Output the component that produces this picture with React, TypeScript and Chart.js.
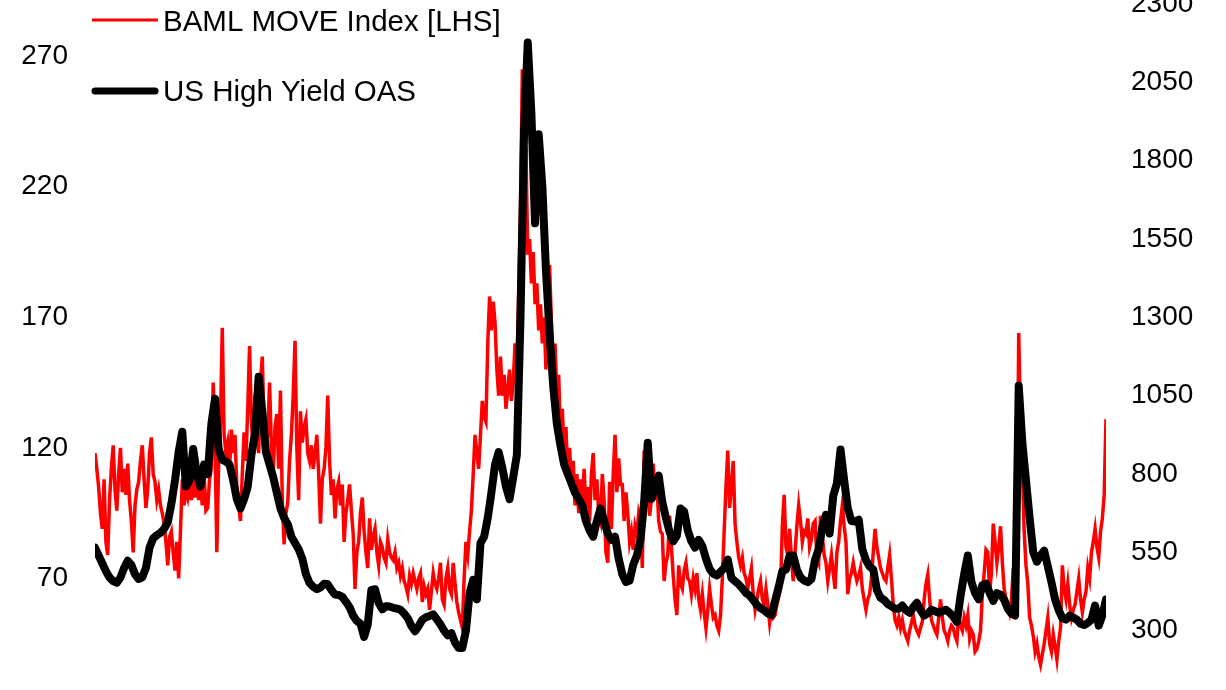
import React, { useEffect, useRef } from 'react';
import { Chart, registerables } from 'chart.js';

Chart.register(...registerables);

const FONT = '"Liberation Sans", Arial, Helvetica, sans-serif';

const moveLabel = 'BAML MOVE Index [LHS]';
const hyLabel = 'US High Yield OAS';

const leftTicks = [20, 70, 120, 170, 220, 270];
const rightTicks = [50, 300, 550, 800, 1050, 1300, 1550, 1800, 2050, 2300];

// BAML MOVE Index, two readings per month, Jan 1999 - Mar 2022
const moveValues = [
  118, 112, 105, 95, 89, 108, 84, 79, 100, 112, 121, 104, 96, 110, 120, 103, 112, 102, 114, 100, 92, 80, 98, 104,
  107, 115, 121, 108, 97, 104, 118, 124, 110, 107, 100, 104, 98, 95, 91, 84, 75, 86, 88, 80, 73, 84, 70, 88,
  108, 98, 104, 101, 107, 100, 110, 101, 112, 100, 106, 98, 110, 96, 97, 108, 112, 145, 122, 80, 114, 130, 166, 125,
  118, 122, 112, 127, 118, 125, 105, 98, 92, 110, 126, 115, 135, 159, 130, 120, 140, 128, 118, 145, 155, 128, 122, 125,
  145, 120, 110, 128, 133, 112, 142, 100, 83, 95, 99, 115, 125, 140, 161, 120, 100, 134, 122, 128, 131, 118, 115, 121,
  112, 118, 125, 110, 91, 108, 112, 120, 140, 115, 102, 108, 93, 104, 107, 98, 106, 84, 95, 100, 106, 96, 87, 66,
  80, 84, 95, 101, 88, 80, 74, 93, 81, 86, 89, 80, 75, 84, 82, 78, 76, 85, 80, 78, 77, 80, 74, 76,
  71, 74, 69, 67, 64, 71, 68, 72, 69, 66, 70, 72, 61, 67, 64, 66, 58, 65, 72, 68, 66, 70, 76, 62,
  60, 70, 74, 66, 64, 76, 68, 61, 57, 54, 51, 70, 84, 79, 88, 96, 110, 125, 118, 112, 125, 138, 132, 130,
  160, 178, 165, 176, 168, 150, 140, 155, 140, 148, 135, 142, 150, 138, 145, 160, 150, 180, 210, 265, 220, 235, 194, 200,
  183, 195, 175, 183, 165, 175, 160, 170, 150, 162, 190, 168, 150, 160, 140, 148, 125, 135, 118, 128, 108, 120, 105, 115,
  98, 110, 95, 108, 100, 112, 97, 105, 92, 110, 118, 100, 108, 95, 92, 110, 100, 80, 76, 107, 89, 110, 125, 103,
  116, 106, 106, 92, 103, 95, 84, 88, 81, 90, 87, 95, 92, 74, 119, 105, 110, 94, 100, 114, 100, 107, 92, 88,
  87, 69, 76, 79, 94, 82, 71, 62, 56, 75, 68, 66, 73, 76, 70, 69, 64, 70, 66, 72, 62, 58, 64, 57,
  51, 58, 66, 60, 55, 56, 52, 50, 56, 70, 88, 105, 119, 97, 105, 115, 91, 84, 78, 75, 78, 72, 70, 66,
  70, 74, 64, 58, 62, 66, 69, 62, 60, 66, 60, 53, 58, 55, 56, 60, 63, 66, 90, 102, 82, 79, 89, 78,
  69, 80, 90, 98, 92, 84, 88, 87, 93, 82, 85, 91, 92, 78, 76, 94, 86, 79, 76, 69, 74, 79, 72, 66,
  80, 84, 92, 98, 90, 84, 64, 70, 72, 76, 72, 69, 71, 74, 66, 62, 58, 62, 64, 70, 80, 89, 82, 78,
  74, 72, 70, 69, 74, 79, 70, 60, 54, 52, 55, 51, 54, 50, 48, 46, 50, 53, 56, 52, 50, 48.5, 51, 53.5,
  62, 68, 71.5, 62, 54, 52, 50, 48.5, 55, 62, 55, 50, 48.5, 46, 50, 52, 51, 48, 46, 56, 52, 50, 55, 52,
  56, 47, 50, 48.5, 42, 43, 46, 50, 64, 72, 81, 80, 65, 72, 91, 84, 76, 82, 90, 76, 66, 62, 60, 57,
  62, 74, 55, 80, 164, 130, 112, 88, 75, 68, 55, 52, 48, 42, 45, 40, 37, 41, 45, 50, 55, 45, 42, 48.5,
  44, 39, 46, 51, 75, 66, 62, 68, 60, 55, 58, 60, 65, 70, 62, 57, 62, 65, 74, 70, 80, 84, 89, 82,
  78, 88, 93, 102, 131,
];

// US High Yield OAS (bp), monthly, Jan 1999 - Mar 2022
const hyValues = [
  565, 540, 515, 490, 470, 458, 453, 470, 500, 523, 510, 480,
  465, 470, 500, 565, 595, 605, 612, 625, 645, 705, 780, 870,
  935, 760, 780, 880, 800, 760, 830, 800, 960, 1040, 880, 845,
  840, 830, 780, 720, 690, 720, 760, 860, 930, 1110, 1000, 870,
  830, 790, 740, 690, 660, 640, 600, 580, 560, 530, 480, 452,
  440, 432, 438, 450, 448, 430, 415, 414, 408, 392, 375, 348,
  331, 322, 280, 320, 430, 432, 388, 368, 378, 377, 373, 370,
  367, 355, 340, 315, 298, 315, 335, 343, 347, 352, 336, 320,
  300, 285, 292, 262, 245, 245, 300, 420, 462, 400, 580, 600,
  660, 740, 830, 870, 820, 760, 720, 790, 860, 1300, 1900, 2177,
  1950, 1600, 1884, 1720, 1450, 1250, 1080, 960, 890, 830, 800, 770,
  740, 720, 700, 650, 620, 600, 650, 690, 650, 610, 590, 600,
  530, 480, 455, 460, 510, 540, 590, 710, 900, 720, 760, 795,
  710, 660, 615, 585, 603, 690, 680, 620, 585, 565, 590, 570,
  530, 497, 482, 476, 488, 500, 527, 468, 458, 448, 435, 420,
  412, 398, 382, 372, 365, 355, 350, 395, 440, 490, 495, 540,
  540, 495, 470, 460, 455, 465, 527, 560, 630, 670, 610, 730,
  770, 878, 780, 690, 650, 648, 654, 560, 525, 505, 495, 430,
  405, 398, 385, 378, 370, 370, 380, 365, 357, 375, 389, 365,
  348, 355, 367, 362, 357, 362, 367, 357, 345, 328, 410, 480,
  540, 455, 420, 400, 445, 450, 421, 395, 420, 415, 399, 370,
  355, 348, 1082, 900, 780, 660, 550, 520, 540, 555, 505, 455,
  400, 365, 340, 335, 348, 342, 335, 322, 318, 325, 335, 380,
  316, 348, 399,
];

const PAD_V = 30; // vertical padding inside the canvas around the plot area
const PLOT_TOP = 4; // page y of the plot area top
const CANVAS_TOP = PLOT_TOP - PAD_V;
const CANVAS_W = 1226;
const CANVAS_H = PAD_V * 2 + 705;

const legendPlugin = {
  id: 'stackedLegend',
  afterDraw(chart: any) {
    const ctx = chart.ctx as CanvasRenderingContext2D;
    const off = -CANVAS_TOP;
    const items = [
      { ds: chart.data.datasets[0], y: 20, baseline: 31 },
      { ds: chart.data.datasets[1], y: 91, baseline: 101 },
    ];
    ctx.save();
    items.forEach((it) => {
      const thick = it.ds.legendWidth > 4;
      ctx.beginPath();
      ctx.strokeStyle = it.ds.borderColor;
      ctx.lineWidth = it.ds.legendWidth;
      ctx.lineCap = thick ? 'round' : 'butt';
      ctx.moveTo(thick ? 95 : 92, it.y + off);
      ctx.lineTo(thick ? 155 : 158, it.y + off);
      ctx.stroke();
      ctx.fillStyle = '#000';
      ctx.font = `29.5px ${FONT}`;
      ctx.textAlign = 'left';
      ctx.textBaseline = 'alphabetic';
      ctx.fillText(it.ds.label, 163, it.baseline + off);
    });
    ctx.restore();
  },
};

const noVerticalPad = (s: any, width: number) => {
  s.width = width;
  s.paddingTop = 0;
  s.paddingBottom = 0;
};

export default function App() {
  const canvasRef = useRef<HTMLCanvasElement | null>(null);

  useEffect(() => {
    if (!canvasRef.current) return;
    const chart = new Chart(canvasRef.current, {
      type: 'line',
      data: {
        datasets: [
          {
            label: moveLabel,
            data: moveValues.map((v, j) => ({ x: j / 24, y: v })),
            yAxisID: 'yL',
            borderColor: '#ff0000',
            borderWidth: 3.5,
            legendWidth: 3,
            pointRadius: 0,
            tension: 0,
            borderJoinStyle: 'miter',
            order: 1,
          } as any,
          {
            label: hyLabel,
            data: hyValues.map((v, i) => ({ x: i / 12, y: v })),
            yAxisID: 'yR',
            borderColor: '#000000',
            borderWidth: 8,
            legendWidth: 7,
            pointRadius: 0,
            tension: 0,
            borderJoinStyle: 'round',
            borderCapStyle: 'round',
            order: 0,
          } as any,
        ],
      },
      options: {
        responsive: false,
        animation: false,
        events: [],
        layout: { padding: { top: PAD_V, bottom: PAD_V, left: 0, right: 0 } },
        plugins: { legend: { display: false }, tooltip: { enabled: false } },
        scales: {
          x: { type: 'linear', display: false, min: 0, max: (hyValues.length - 1) / 12 },
          yL: {
            type: 'linear',
            position: 'left',
            min: 20,
            max: 290,
            grid: { display: false, drawTicks: false },
            border: { display: false },
            ticks: { color: '#000', padding: 27, font: { size: 28, family: FONT }, callback: (v: any) => String(v) },
            afterBuildTicks: (s: any) => { s.ticks = leftTicks.map((v) => ({ value: v })); },
            afterFit: (s: any) => noVerticalPad(s, 95),
          },
          yR: {
            type: 'linear',
            position: 'right',
            min: 50,
            max: 2300,
            grid: { display: false, drawTicks: false },
            border: { display: false },
            ticks: { color: '#000', padding: 25, font: { size: 28, family: FONT }, callback: (v: any) => String(v) },
            afterBuildTicks: (s: any) => { s.ticks = rightTicks.map((v) => ({ value: v })); },
            afterFit: (s: any) => noVerticalPad(s, 120),
          },
        },
      } as any,
      plugins: [legendPlugin],
    });
    return () => chart.destroy();
  }, []);

  return (
    <div style={{ position: 'fixed', left: 0, top: 0, width: 1226, height: 690, overflow: 'hidden', background: '#fff' }}>
      <canvas
        ref={canvasRef}
        width={CANVAS_W}
        height={CANVAS_H}
        style={{ position: 'absolute', left: 0, top: CANVAS_TOP, width: CANVAS_W, height: CANVAS_H }}
      />
    </div>
  );
}
